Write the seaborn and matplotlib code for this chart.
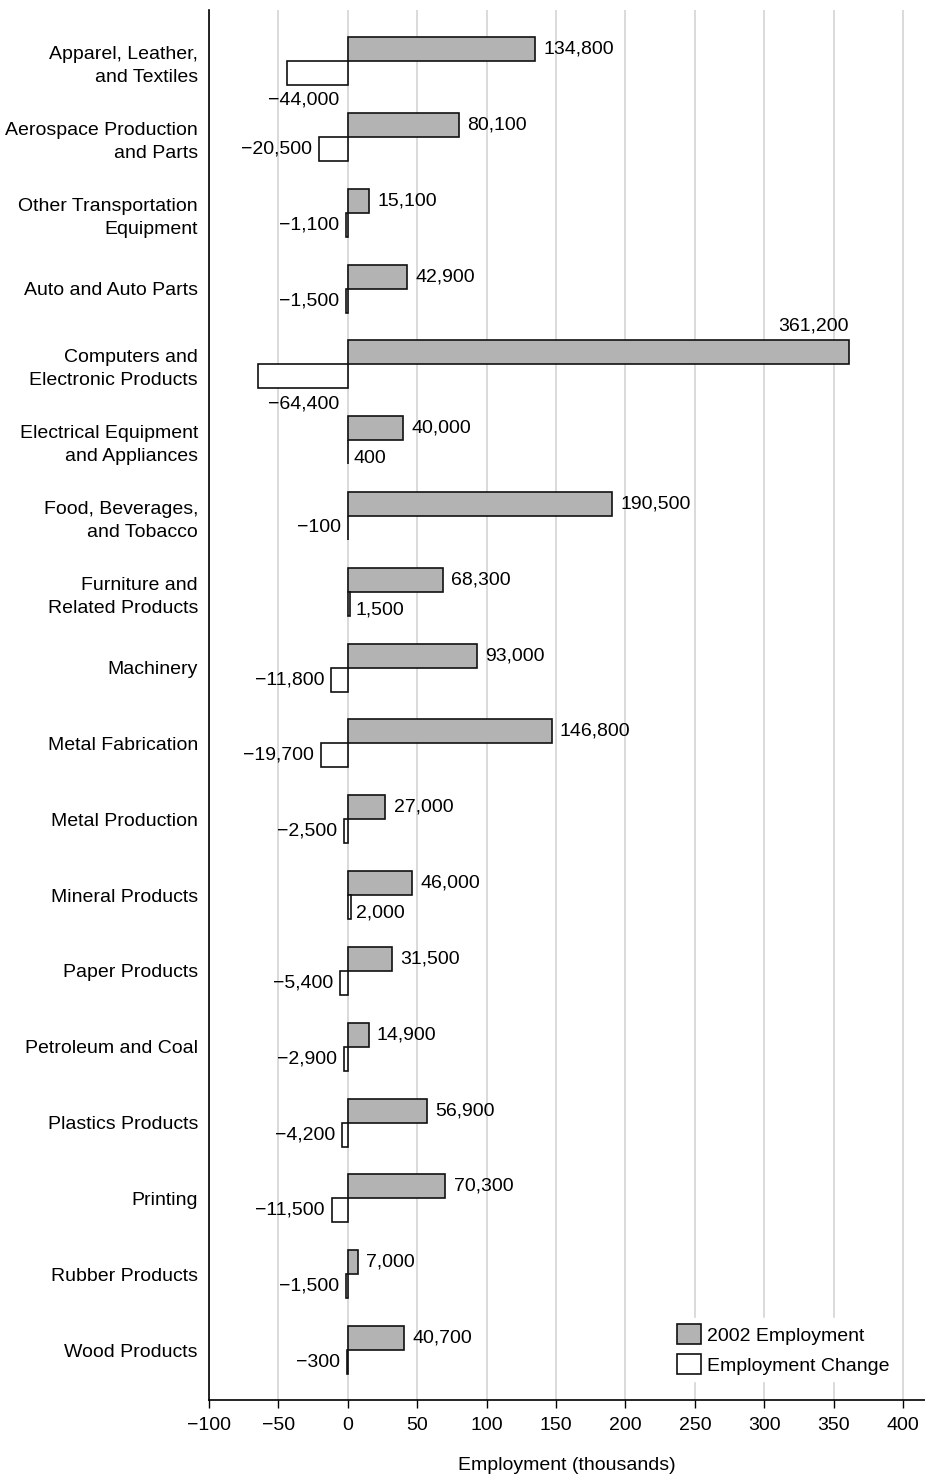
import pandas as pd
import matplotlib
matplotlib.use("Agg")
import matplotlib.pyplot as plt
import seaborn as sns

categories = [
    "Apparel, Leather,\nand Textiles",
    "Aerospace Production\nand Parts",
    "Other Transportation\nEquipment",
    "Auto and Auto Parts",
    "Computers and\nElectronic Products",
    "Electrical Equipment\nand Appliances",
    "Food, Beverages,\nand Tobacco",
    "Furniture and\nRelated Products",
    "Machinery",
    "Metal Fabrication",
    "Metal Production",
    "Mineral Products",
    "Paper Products",
    "Petroleum and Coal",
    "Plastics Products",
    "Printing",
    "Rubber Products",
    "Wood Products",
]

# thousands
employment_2002 = [134.8, 80.1, 15.1, 42.9, 361.2, 40.0, 190.5, 68.3, 93.0,
                   146.8, 27.0, 46.0, 31.5, 14.9, 56.9, 70.3, 7.0, 40.7]
employment_change = [-44.0, -20.5, -1.1, -1.5, -64.4, 0.4, -0.1, 1.5, -11.8,
                     -19.7, -2.5, 2.0, -5.4, -2.9, -4.2, -11.5, -1.5, -0.3]

series_names = ["2002 Employment", "Employment Change"]
x_ticks = [-100, -50, 0, 50, 100, 150, 200, 250, 300, 350, 400]

FS = 14


def fmt(v):
    # thousands -> full number with comma, typographic minus
    s = f"{int(round(v * 1000)):,}"
    return s.replace("-", "\u2212")


df = pd.concat([
    pd.DataFrame({"category": categories, "value": employment_2002, "series": series_names[0]}),
    pd.DataFrame({"category": categories, "value": employment_change, "series": series_names[1]}),
])

sns.set_theme(style="white")
plt.rcParams["font.family"] = ["Liberation Sans", "DejaVu Sans"]
plt.rcParams["font.size"] = FS
plt.rcParams["text.color"] = "black"
plt.rcParams["xtick.color"] = "black"
plt.rcParams["ytick.color"] = "black"
plt.rcParams["axes.labelcolor"] = "black"

fig = plt.figure(figsize=(9.25, 14.75), dpi=100)
ax = fig.add_axes([0.226, 0.0508, 0.774, 0.9424])

sns.barplot(data=df, y="category", x="value", hue="series", orient="h",
            hue_order=series_names,
            palette={series_names[0]: "#b3b3b3", series_names[1]: "white"},
            edgecolor="#111111", linewidth=1.2, width=0.633, ax=ax)

# value labels
for bar, v in zip(ax.containers[0], employment_2002):
    yc = bar.get_y() + bar.get_height() / 2
    if v > 300:
        ax.text(v, bar.get_y() - 0.08, fmt(v), ha="right", va="bottom", fontsize=FS)
    else:
        ax.text(v + 6, yc, fmt(v), ha="left", va="center", fontsize=FS)

for bar, v in zip(ax.containers[1], employment_change):
    yc = bar.get_y() + bar.get_height() / 2
    if v < -30:
        ax.text(-6.5, yc + 0.36, fmt(v), ha="right", va="center", fontsize=FS)
    elif v < 0:
        ax.text(v - 5, yc, fmt(v), ha="right", va="center", fontsize=FS)
    else:
        ax.text(v + 4, yc + 0.08, fmt(v), ha="left", va="center", fontsize=FS)

ax.set_xlim(-100, 415.8)
ax.set_ylim(17.66, -0.673)
ax.set_xticks(x_ticks)
ax.set_xticklabels([str(t).replace("-", "\u2212") for t in x_ticks])
ax.set_yticks(range(len(categories)))
ax.set_yticklabels(categories, linespacing=1.45, ha="right")
ax.xaxis.grid(True, color="#d4d4d4", linewidth=1.2)
ax.yaxis.grid(False)
ax.set_axisbelow(True)

sns.despine(ax=ax, top=True, right=True)
for side in ["left", "bottom"]:
    ax.spines[side].set_color("black")
    ax.spines[side].set_linewidth(1.2)

ax.tick_params(axis="x", direction="out", length=6, width=1.0, color="black",
               labelsize=FS, pad=6, bottom=True)
ax.tick_params(axis="y", length=0, labelsize=FS, pad=8)

ax.set_ylabel("")
ax.set_xlabel("Employment (thousands)", fontsize=FS, labelpad=17)

handles, labels = ax.get_legend_handles_labels()
ax.legend(handles, labels, loc="lower right", bbox_to_anchor=(0.972, 0.007),
          frameon=True, facecolor="white", edgecolor="white", framealpha=1,
          fontsize=FS, handlelength=1.25, handleheight=1.2, handletextpad=0.3,
          labelspacing=0.5, borderpad=0.3)

fig.savefig("out.png", dpi=100)
